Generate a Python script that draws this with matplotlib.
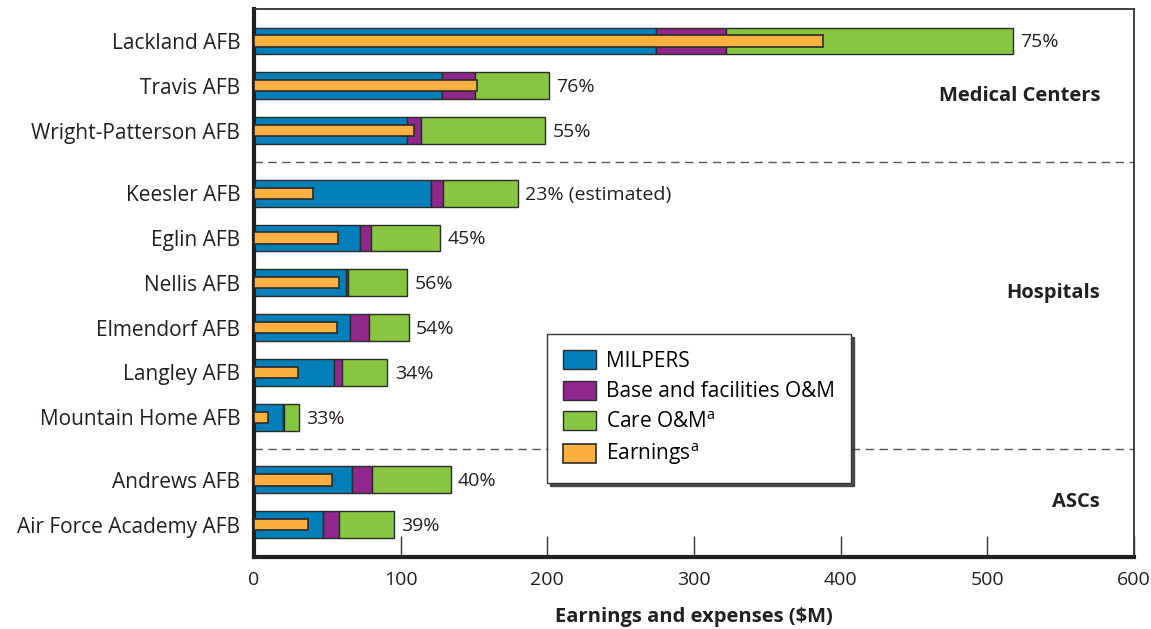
import numpy as np
import matplotlib
matplotlib.use('Agg')
import matplotlib.pyplot as plt

plt.rcParams['font.family'] = ['Open Sans', 'DejaVu Sans']

bases = ['Lackland AFB', 'Travis AFB', 'Wright-Patterson AFB',
         'Keesler AFB', 'Eglin AFB', 'Nellis AFB', 'Elmendorf AFB',
         'Langley AFB', 'Mountain Home AFB',
         'Andrews AFB', 'Air Force Academy AFB']
group_names = ['Medical Centers', 'Hospitals', 'ASCs']
group_sizes = [3, 6, 2]

# $M
milpers = [274, 128, 104, 120.7, 72.5, 62.5, 65.2, 54.8, 19.8, 67, 46.8]
base_om = [48, 22.5, 10, 8.3, 7, 1.8, 13, 5, 0.9, 13.5, 10.9]
care_om = [195.5, 50.5, 84.5, 51, 47.5, 40.2, 27.3, 31.1, 10, 53.5, 37.8]
earnings = [388, 152, 109, 40.5, 57.5, 58, 56.8, 30.2, 9.5, 53.4, 36.8]
pct_labels = ['75%', '76%', '55%', '23% (estimated)', '45%', '56%', '54%',
              '34%', '33%', '40%', '39%']

c_blue = '#0380B9'
c_purple = '#8F278D'
c_green = '#88C540'
c_orange = '#FBB040'
edge = '#2b2b2b'
txt = '#231f20'

# row positions with a gap between groups
gap = 0.4
ypos = []
y = 0.0
for n in group_sizes:
    for k in range(n):
        ypos.append(y)
        y += 1
    y += gap
ypos = np.array(ypos)

fig = plt.figure(figsize=(11.51, 6.29), dpi=100)
ax = fig.add_axes([0.2207, 0.1145, 0.7645, 0.8712])

milpers = np.array(milpers)
base_om = np.array(base_om)
care_om = np.array(care_om)

h = 0.6
ax.barh(ypos, milpers, height=h, color=c_blue, edgecolor=edge, lw=1, zorder=2,
        label='MILPERS')
ax.barh(ypos, base_om, left=milpers, height=h, color=c_purple, edgecolor=edge,
        lw=1, zorder=2, label='Base and facilities O&M')
ax.barh(ypos, care_om, left=milpers + base_om, height=h, color=c_green,
        edgecolor=edge, lw=1, zorder=2, label='Care O&M$^\\mathregular{a}$')
ax.barh(ypos, earnings, height=0.25, color=c_orange, edgecolor=edge, lw=1.2,
        zorder=3, label='Earnings$^\\mathregular{a}$')

totals = milpers + base_om + care_om
for yy, t, s in zip(ypos, totals, pct_labels):
    ax.text(t + 5, yy + 0.03, s, va='center', ha='left', fontsize=14, color=txt)

# group separators and names
starts = np.cumsum([0] + group_sizes)
for gi in range(len(group_sizes) - 1):
    yline = (ypos[starts[gi + 1] - 1] + ypos[starts[gi + 1]]) / 2
    ax.axhline(yline, color='#555555', lw=1, ls=(0, (6, 4)), zorder=1)
group_label_y = [1.23, 5.62, 10.29]
for name, gy in zip(group_names, group_label_y):
    ax.text(577, gy, name, ha='right', va='center', fontsize=14.5,
            fontweight='bold', color=txt)

ax.set_xlim(0, 600)
ax.set_ylim(11.52, -0.714)
ax.set_yticks(ypos)
ax.set_yticklabels(bases, fontsize=15, color=txt)
ax.tick_params(axis='y', length=0, pad=10)
ax.set_xticks(np.arange(0, 601, 100))
ax.tick_params(axis='x', direction='in', length=15, width=1, color='#333333',
               labelsize=14, labelcolor=txt, pad=10)
ax.set_xlabel('Earnings and expenses ($M)', fontsize=14.5, fontweight='bold',
              color=txt, labelpad=13)

for side in ['left', 'bottom']:
    ax.spines[side].set_linewidth(3)
    ax.spines[side].set_color(txt)
for side in ['top', 'right']:
    ax.spines[side].set_linewidth(1.3)
    ax.spines[side].set_color('#333333')

leg = ax.legend(loc='lower left', bbox_to_anchor=(0.333, 0.135),
                borderaxespad=0, fancybox=False,
                shadow={'color': '#333333', 'alpha': 0.85}, fontsize=15,
                handlelength=1.6, handleheight=1.05, labelspacing=0.42,
                borderpad=0.75, handletextpad=0.5, frameon=True)
leg.get_frame().set_edgecolor('#333333')
leg.get_frame().set_linewidth(1)
leg.set_zorder(5)
for patch in leg.get_patches():
    patch.set_edgecolor(edge)

fig.savefig('out.png', dpi=100)
